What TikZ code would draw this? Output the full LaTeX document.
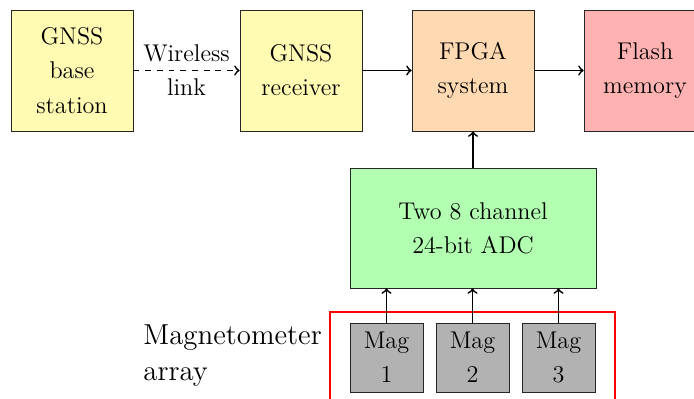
\documentclass[tikz,border=0pt]{standalone}
\usetikzlibrary{fit}

% box styles
\tikzset{
	blk/.style={draw=black!85,align=center,font={\fontsize{12.4}{17.5}\selectfont},
		minimum width=2.196cm,minimum height=2.178cm,inner sep=0pt},
	gnss/.style={blk,fill=yellow!30},
	fpga/.style={blk,fill=orange!30},
	flash/.style={blk,fill=red!30},
	adc/.style={blk,fill=green!30,minimum width=4.428cm,minimum height=2.16cm},
	mag/.style={blk,fill=black!30,minimum width=1.314cm,minimum height=1.242cm},
	grp/.style={draw=red,line width=1pt},
	link/.style={line width=0.9pt,->},
}

\begin{document}
\begin{tikzpicture}[x=0.018cm,y=-0.018cm]
%Rahmen
\clip (0,0) rectangle (694,399);
%top row
\node[gnss] (base) at (72,70.5) {GNSS\\base\\station};
\node[gnss] (rcv) at (301,70.5) {GNSS\\receiver};
\node[fpga] (fpga) at (473,70.5) {FPGA\\system};
\node[flash] (flash) at (645,70.5) {Flash\\memory};
%adc
\node[adc] (adc) at (473,228) {Two 8 channel\\24-bit ADC};
%magnetometers
\node[mag] (mag1) at (386.5,357.5) {Mag\\1};
\node[mag] (mag2) at (472.5,357.5) {Mag\\2};
\node[mag] (mag3) at (558.5,357.5) {Mag\\3};
\node[grp,fit=(mag1)(mag3),inner xsep=0.36cm,inner ysep=0.198cm] (array) {};
\node[anchor=west,align=left,inner sep=0pt,font={\fontsize{14.8}{18.5}\selectfont}] (arraytxt) at (143,356) {Magnetometer\\array};
%arrows
\draw [link,dashed] (base)--node[font={\fontsize{12.4}{17.5}\selectfont},align=center]{Wireless\\link}(rcv);
\draw [link] (rcv)--(fpga);
\draw [link] (fpga)--(flash);
\draw [link] (adc)--(fpga);
\draw [link] (mag1)--(mag1|-adc.south);
\draw [link] (mag2)--(mag2|-adc.south);
\draw [link] (mag3)--(mag3|-adc.south);
\end{tikzpicture}
\end{document}
